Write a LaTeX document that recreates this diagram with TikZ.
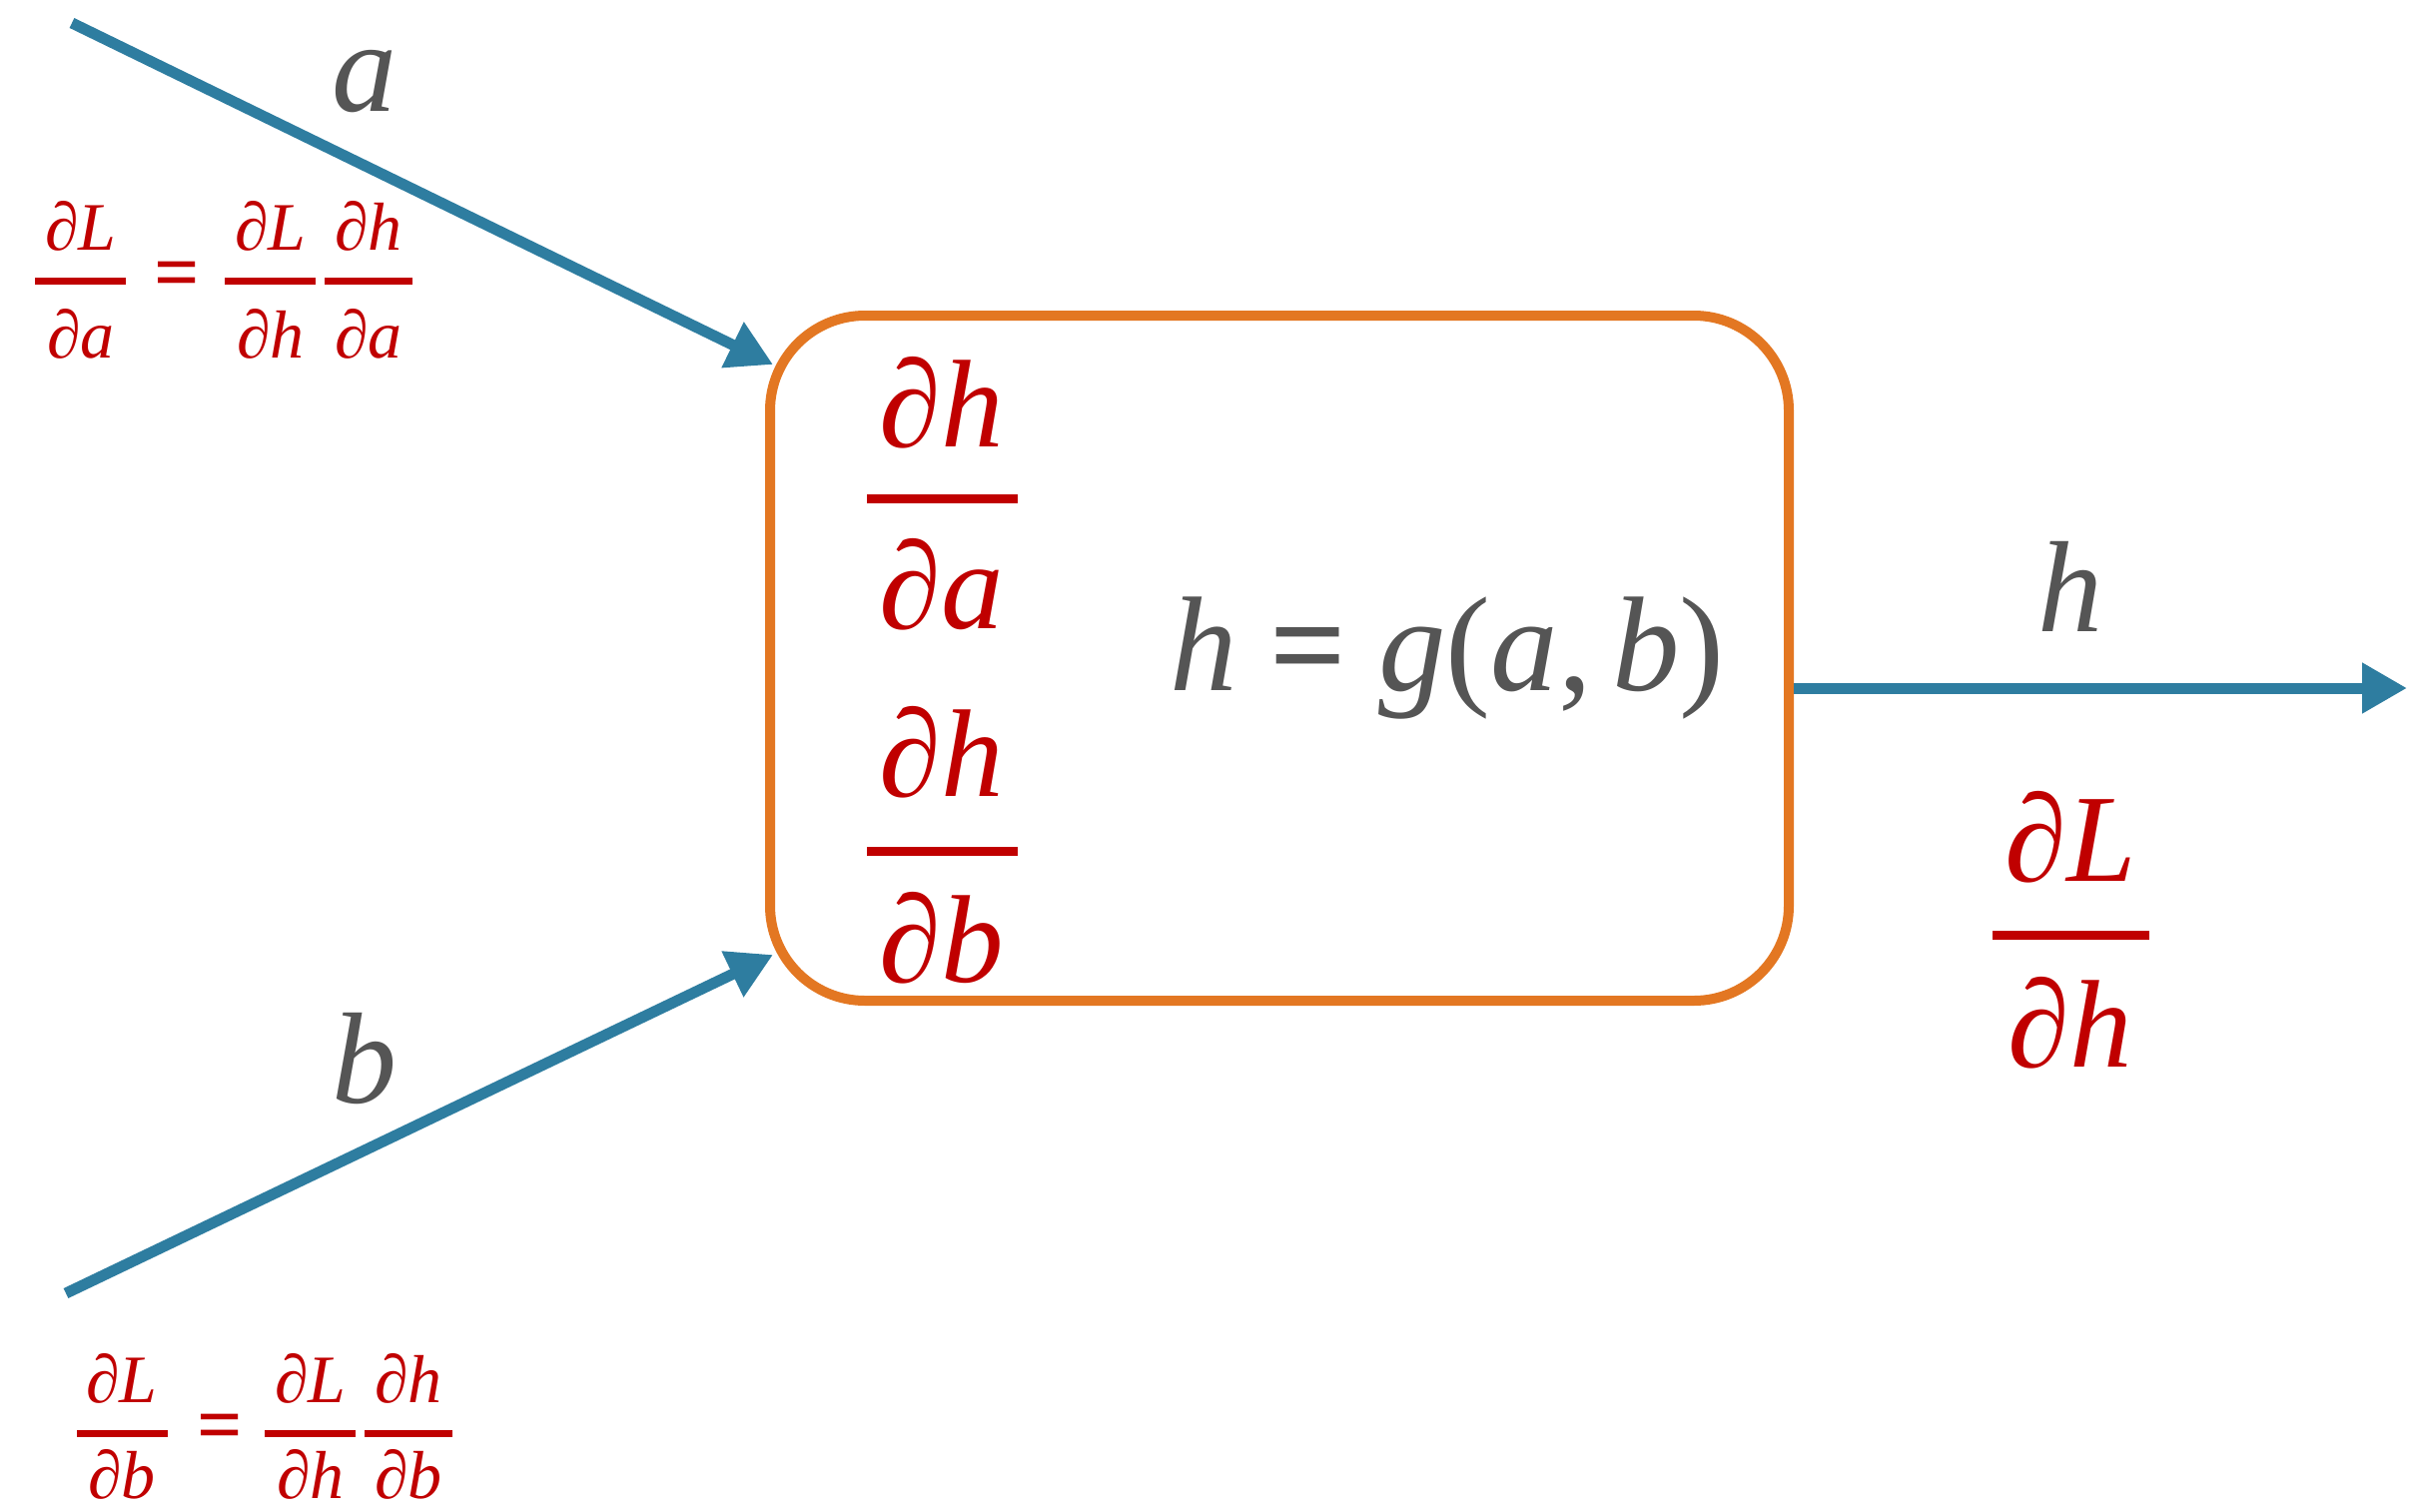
\documentclass[tikz,border=0pt]{standalone}
\usepackage{fontspec}
\setmainfont{Liberation Serif}
\usetikzlibrary{arrows.meta}
\definecolor{arrowblue}{RGB}{46,125,160}
\definecolor{boxorange}{RGB}{227,119,34}
\definecolor{gradred}{RGB}{192,0,0}
\definecolor{labelgray}{RGB}{85,85,85}
\begin{document}
\begin{tikzpicture}[x=1pt,y=-1pt,
  conn/.style={draw=arrowblue,line width=11pt,-{Triangle[length=45pt,width=48pt]}},
  graylabel/.style={text=labelgray,font=\fontsize{130}{135}\selectfont\itshape,inner sep=0pt,anchor=base},
  eqlabel/.style={text=labelgray,font=\fontsize{135}{140}\selectfont\itshape,inner sep=0pt,anchor=base},
  bigred/.style={text=gradred,font=\fontsize{125}{130}\selectfont\itshape,inner sep=0pt,anchor=base},
  smallred/.style={text=gradred,font=\fontsize{68}{72}\selectfont\itshape,inner sep=0pt,anchor=base},
  smalleq/.style={text=gradred,font=\fontsize{80}{84}\selectfont\bfseries,inner sep=0pt,anchor=center},
  bigbar/.style={draw=gradred,line width=9pt},
  smallbar/.style={draw=gradred,line width=7pt},
  funcbox/.style={draw=boxorange,line width=10pt,rounded corners=95pt,inner sep=0pt}]
\useasboundingbox (0,0) rectangle (2417,1513);
% box
\node[funcbox,minimum width=1020pt,minimum height=686pt] (box) at (1281,659) {};
% arrows
\coordinate (ain) at (72,23);
\coordinate (ahit) at (774,365);
\coordinate (bin) at (66,1295);
\coordinate (bhit) at (774,956);
\coordinate (hout) at (2410,689);
\draw[conn] (ain) -- (ahit);
\draw[conn] (bin) -- (bhit);
\draw[conn] (box.east |- hout) -- (hout);
% gray labels
\node[graylabel] (la) at (365,111) {a};
\node[graylabel] (lb) at (365,1104) {b};
\node[graylabel] (lh) at (2073,632) {h};
\node[eqlabel] (eq) at (1449,691) {h\hspace{0.24em}{\upshape\bfseries=}\hspace{0.24em}g{\upshape(}a{\upshape,}\hspace{0.15em}b{\upshape)}};
% fractions inside box
\node[bigred] (dha1) at (943,447) {∂h};
\draw[bigbar] (868,499) -- (1019,499);
\node[bigred] (da1) at (943,629) {∂a};
\node[bigred] (dhb1) at (943,797) {∂h};
\draw[bigbar] (868,852) -- (1019,852);
\node[bigred] (db1) at (943,983) {∂b};
% output fraction
\node[bigred] (dL) at (2073,882) {∂L};
\draw[bigbar] (1995,936) -- (2152,936);
\node[bigred] (dhL) at (2073,1068) {∂h};
% top small equation
\node[smallred] (ta1) at (81,250) {∂L};
\draw[smallbar] (35,281) -- (126,281);
\node[smallred] (ta2) at (81,358) {∂a};
\node[smalleq] (teq) at (177,281) {=};
\node[smallred] (ta3) at (271,250) {∂L};
\draw[smallbar] (225,281) -- (316,281);
\node[smallred] (ta4) at (271,358) {∂h};
\node[smallred] (ta5) at (369,250) {∂h};
\draw[smallbar] (325,281) -- (413,281);
\node[smallred] (ta6) at (369,358) {∂a};
% bottom small equation
\node[smallred] (tb1) at (122,1404) {∂L};
\draw[smallbar] (77,1435) -- (168,1435);
\node[smallred] (tb2) at (122,1500) {∂b};
\node[smalleq] (beq) at (220,1435) {=};
\node[smallred] (tb3) at (311,1404) {∂L};
\draw[smallbar] (265,1435) -- (356,1435);
\node[smallred] (tb4) at (311,1500) {∂h};
\node[smallred] (tb5) at (409,1404) {∂h};
\draw[smallbar] (365,1435) -- (453,1435);
\node[smallred] (tb6) at (409,1500) {∂b};
\end{tikzpicture}
\end{document}
